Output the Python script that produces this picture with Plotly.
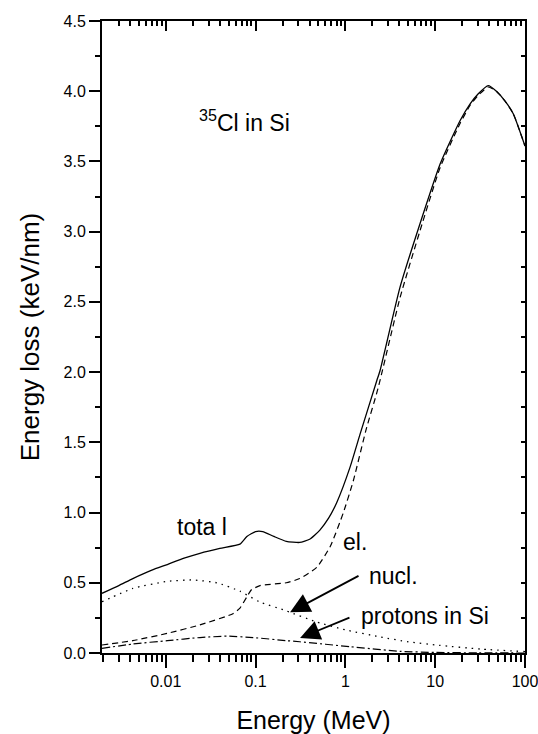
import math
import plotly.graph_objects as go

# ---- data ----
total_E = [0.00195, 0.003, 0.0043, 0.007, 0.0104, 0.016, 0.024, 0.04, 0.067, 0.08, 0.1, 0.12,
           0.16, 0.22, 0.31, 0.4, 0.52, 0.65, 0.8, 1.13, 1.46, 2.24, 2.43, 4.06, 6.8, 11.4,
           18.9, 24.5, 30, 39, 48, 60, 74, 100]
total_S = [0.425, 0.48, 0.53, 0.59, 0.63, 0.675, 0.71, 0.745, 0.775, 0.83, 0.865, 0.865,
           0.83, 0.795, 0.787, 0.81, 0.875, 0.96, 1.07, 1.325, 1.56, 1.94, 2.01, 2.605, 3.06, 3.485,
           3.79, 3.91, 3.98, 4.04, 4.00, 3.93, 3.84, 3.61]

el_E = [0.00195, 0.0043, 0.0104, 0.024, 0.056, 0.067, 0.08, 0.09, 0.112, 0.22, 0.31, 0.48,
        0.68, 0.95, 1.23, 1.7, 2.3, 4.06, 6.8, 11.4, 18.9, 24.5, 30, 39, 48, 60, 74, 100]
el_S = [0.057, 0.088, 0.14, 0.20, 0.28, 0.32, 0.40, 0.45, 0.48, 0.50, 0.53, 0.61,
        0.76, 1.00, 1.23, 1.59, 1.88, 2.53, 3.01, 3.46, 3.77, 3.90, 3.97, 4.03, 4.00, 3.93, 3.84, 3.61]

nucl_E = [0.00195, 0.0043, 0.0104, 0.02, 0.037, 0.067, 0.11, 0.22, 0.48, 1.0, 2.4, 5, 11, 32, 100]
nucl_S = [0.365, 0.46, 0.51, 0.52, 0.50, 0.44, 0.365, 0.30, 0.22, 0.165, 0.115, 0.08, 0.055, 0.028, 0.01]

prot_E = [0.00195, 0.0043, 0.0104, 0.024, 0.048, 0.094, 0.22, 0.31, 1.13, 4.06, 10, 30, 100]
prot_S = [0.033, 0.064, 0.088, 0.11, 0.12, 0.11, 0.088, 0.08, 0.045, 0.012, 0.004, 0.001, 0.0]

x_tick_vals = [0.01, 0.1, 1, 10, 100]
x_tick_text = ["0.01", "0.1", "1", "10", "100"]

x_title = "Energy (MeV)"
y_title = "Energy loss (keV/nm)"

# ---- figure ----
FONT = "Liberation Sans, Arial, Helvetica, sans-serif"
x_min = 0.00195
x_range = [math.log10(x_min), 2]
y_range = [0, 4.5]

minor_x = [m * 10 ** d for d in range(-3, 3) for m in range(2, 10)
           if x_min <= m * 10 ** d <= 100]
minor_y = [0.25 + 0.5 * i for i in range(9)]

fig = go.Figure()
fig.add_trace(go.Scatter(x=total_E, y=total_S, mode="lines", hoverinfo="skip",
                         line=dict(color="black", width=1.3, shape="spline", smoothing=0.5)))
fig.add_trace(go.Scatter(x=el_E, y=el_S, mode="lines", hoverinfo="skip",
                         line=dict(color="black", width=1.2, dash="6px,4px", shape="spline", smoothing=0.5)))
fig.add_trace(go.Scatter(x=nucl_E, y=nucl_S, mode="lines", hoverinfo="skip",
                         line=dict(color="black", width=1.3, dash="1.5px,5px", shape="spline", smoothing=0.5)))
fig.add_trace(go.Scatter(x=prot_E, y=prot_S, mode="lines", hoverinfo="skip",
                         line=dict(color="black", width=1.2, dash="8px,3px,2px,3px", shape="spline", smoothing=0.5)))
# dummy traces that activate the mirrored (inside-tick) top and right axes
fig.add_trace(go.Scatter(x=[None], y=[None], xaxis="x2", yaxis="y", mode="lines",
                         hoverinfo="skip", showlegend=False))
fig.add_trace(go.Scatter(x=[None], y=[None], xaxis="x", yaxis="y2", mode="lines",
                         hoverinfo="skip", showlegend=False))

fig.update_layout(
    template="none",
    width=546, height=734,
    margin=dict(l=102, r=21, t=21, b=81, autoexpand=False),
    paper_bgcolor="white", plot_bgcolor="white",
    showlegend=False,
    font=dict(family=FONT, color="black", size=16),
    xaxis=dict(
        type="log", range=x_range, showgrid=False, zeroline=False, automargin=False,
        showline=True, linecolor="black", linewidth=2, mirror=True,
        ticks="outside", ticklen=13, tickwidth=2, tickcolor="black",
        tickmode="array", tickvals=x_tick_vals, ticktext=x_tick_text,
        tickfont=dict(size=16),
        minor=dict(ticks="outside", ticklen=7, tickwidth=2, tickcolor="black",
                   tickmode="array", tickvals=minor_x, showgrid=False),
        title=dict(text=x_title, font=dict(size=25)),
    ),
    xaxis2=dict(
        type="log", range=x_range, overlaying="x", side="top", anchor="y",
        showgrid=False, zeroline=False, showline=False, automargin=False,
        ticks="inside", ticklen=10, tickwidth=2, tickcolor="black",
        tickmode="array", tickvals=x_tick_vals, showticklabels=False,
        minor=dict(ticks="inside", ticklen=5, tickwidth=2, tickcolor="black",
                   tickmode="array", tickvals=minor_x, showgrid=False),
    ),
    yaxis=dict(
        range=y_range, showgrid=False, zeroline=False, automargin=False,
        showline=True, linecolor="black", linewidth=2, mirror=True,
        ticks="outside", ticklen=11, tickwidth=2, tickcolor="black",
        tickmode="linear", tick0=0, dtick=0.5, tickformat=".1f",
        tickfont=dict(size=16),
        minor=dict(ticks="outside", ticklen=5, tickwidth=2, tickcolor="black",
                   tickmode="array", tickvals=minor_y, showgrid=False),
        title=dict(text=y_title, font=dict(size=26)),
    ),
    yaxis2=dict(
        range=y_range, overlaying="y", side="right", anchor="x",
        showgrid=False, zeroline=False, showline=False, automargin=False,
        ticks="inside", ticklen=4, tickwidth=1.5, tickcolor="black",
        tickmode="linear", tick0=0, dtick=0.25, showticklabels=False,
    ),
)

ann_font = dict(family=FONT, size=23, color="black")
texts = [
    ("<sup>35</sup>Cl in Si", -1.651, 3.79),
    ("tota l", -1.896, 0.898),
    ("el.", -0.048, 0.79),
    ("nucl.", 0.2416, 0.548),
    ("protons in Si", 0.152, 0.262),
]
for t, xx, yy in texts:
    fig.add_annotation(text=t, x=xx, y=yy, xref="x", yref="y", showarrow=False,
                       xanchor="left", yanchor="middle", font=ann_font)

arrows = [
    (-0.616, 0.29, 0.163, 0.555),
    (-0.5045, 0.107, 0.062, 0.256),
]
for hx, hy, tx, ty in arrows:
    fig.add_annotation(text="", x=hx, y=hy, ax=tx, ay=ty, xref="x", yref="y",
                       axref="x", ayref="y", showarrow=True, arrowhead=2,
                       arrowsize=2.2, arrowwidth=1.8, arrowcolor="black", standoff=0)

# remove the default page margin so the figure sits at the window's top-left corner
fig.write_html("out.html", config={"displayModeBar": False},
               post_script="document.body.style.margin='0';document.body.style.overflow='hidden';")
